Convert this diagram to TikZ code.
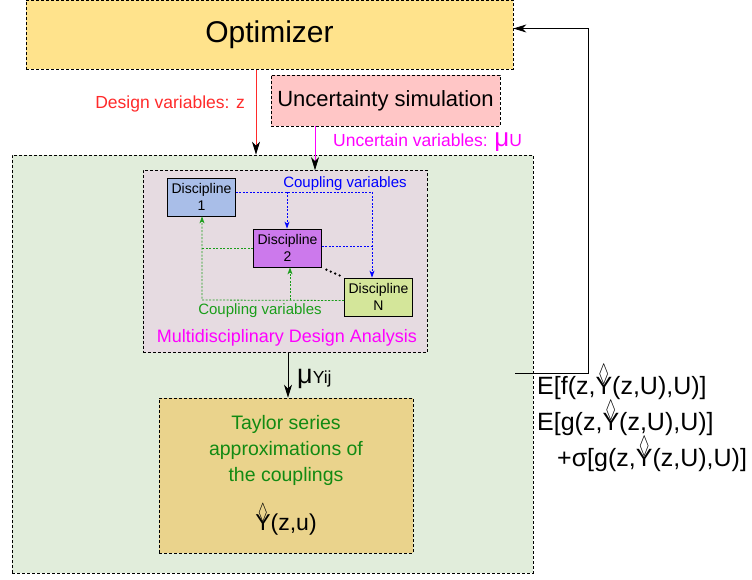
\documentclass[tikz,border=0pt]{standalone}
\usepackage{amsmath,amssymb}
\usepackage{fontspec}
\setmainfont{Liberation Sans}
\usepackage{tikz}
\usetikzlibrary{arrows.meta}
\definecolor{optfill}{HTML}{FFE38C}
\definecolor{uncfill}{HTML}{FFC6C6}
\definecolor{anafill}{HTML}{E1EDDB}
\definecolor{mdafill}{HTML}{E6DBE1}
\definecolor{discfillA}{HTML}{A9BEE8}
\definecolor{discfillB}{HTML}{CC79EC}
\definecolor{discfillN}{HTML}{D4E69A}
\definecolor{taylorfill}{HTML}{EAD38C}
\definecolor{designcolor}{HTML}{FF2A2A}
\definecolor{uncertcolor}{HTML}{FF00FF}
\definecolor{blueline}{HTML}{0000FF}
\definecolor{greenline}{HTML}{1A9E1A}
\definecolor{taylortext}{HTML}{128A12}
\newcommand{\yhat}{\leavevmode\setbox0\hbox{Y}%
  \rlap{\hbox to\wd0{\hss\raisebox{0.72\ht0}{\scalebox{0.62}[1.0]{$\lozenge$}}\hss}}\box0}
\tikzset{
  dashed box/.style={
    rectangle,
    draw=black,
    line width=0.7pt,
    dash pattern=on 3pt off 2pt,
    inner sep=0pt
  },
  optimizer box/.style={
    dashed box,
    fill=optfill,
    minimum width=487pt,
    minimum height=69pt,
    font=\fontsize{30}{36}\selectfont
  },
  uncert box/.style={
    dashed box,
    fill=uncfill,
    minimum width=229pt,
    minimum height=51pt,
    font=\fontsize{22}{26}\selectfont
  },
  analysis box/.style={
    dashed box,
    fill=anafill,
    minimum width=521pt,
    minimum height=418pt
  },
  mda box/.style={
    dashed box,
    fill=mdafill,
    minimum width=284pt,
    minimum height=182pt
  },
  taylor box/.style={
    dashed box,
    fill=taylorfill,
    minimum width=254pt,
    minimum height=155pt,
    align=center,
    text=taylortext,
    font=\fontsize{19.5}{26}\selectfont
  },
  discipline/.style={
    rectangle,
    draw=black,
    line width=0.8pt,
    minimum width=68pt,
    minimum height=38pt,
    inner sep=0pt,
    align=center,
    font=\fontsize{14}{16.5}\selectfont
  },
  coupling/.style={
    line width=0.8pt,
    dash pattern=on 2pt off 1.5pt,
    -{Stealth[length=7pt,width=5pt,inset=2pt]}
  },
  flow/.style={
    draw=black,
    line width=0.8pt,
    -{Stealth[length=13pt,width=8pt,inset=4pt,color=black]}
  },
  dots/.style={
    line width=2.6pt,
    line cap=round,
    dash pattern=on 0pt off 4.8pt
  },
  flow label/.style={
    font=\fontsize{17.5}{20}\selectfont,
    inner sep=0pt
  },
  small label/.style={
    font=\fontsize{15}{18}\selectfont,
    inner sep=0pt
  },
  mda title/.style={
    font=\fontsize{18}{20}\selectfont,
    text=uncertcolor,
    inner sep=0pt
  },
  output text/.style={
    font=\fontsize{25}{33}\selectfont,
    align=left,
    inner sep=0pt
  }
}

\begin{document}
\begin{tikzpicture}[x=1pt,y=-1pt]
  \useasboundingbox (0,0) rectangle (752,580);

  \node[analysis box] (analysis) at (272.5,364) {};
  \node[optimizer box] (optimizer) at (269.5,35) {Optimizer};
  \node[uncert box] (uncert) at (385.5,100.5) {Uncertainty simulation};
  \node[mda box] (mda) at (285,261.5) {};
  \node[taylor box] (taylor) at (286,475.5) {Taylor series\\approximations of\\the couplings\\[17pt]\textcolor{black}{\fontsize{23}{23}\selectfont\yhat(z,u)}};

  \node[discipline, fill=discfillA] (D-1) at (201.5,197) {Discipline\\1};
  \node[discipline, fill=discfillB] (D-2) at (287.5,248) {Discipline\\2};
  \node[discipline, fill=discfillN] (D-N) at (378.5,297) {Discipline\\N};

  \node[small label, text=blueline] (cv-blue) at (345,184) {Coupling variables};
  \node[small label, text=greenline] (cv-green) at (260,310.5) {Coupling variables};
  \node[mda title] (mda-title) at (287,338) {Multidisciplinary Design Analysis};

  % couplings between the disciplines
  \coordinate (B-join) at (372,192);
  \coordinate (B-2) at (287,192);
  \coordinate (G-join) at (202,300);
  \coordinate (G-2) at (290,300);
  \draw[coupling, draw=blueline] ([yshift=5pt]D-1.east) -- (B-join) -- (B-join |- D-N.north);
  \draw[coupling, draw=blueline] (B-2) -- (B-2 |- D-2.north);
  \draw[coupling, draw=blueline, -] ([yshift=2pt]D-2.east) -- ([yshift=2pt]D-2.east -| B-join);
  \draw[coupling, draw=greenline] ([yshift=-3.5pt]D-N.west) -- (G-join) -- (G-join |- D-1.south);
  \draw[coupling, draw=greenline] (G-2) -- (G-2 |- D-2.south);
  \draw[coupling, draw=greenline, -] (D-2.west) -- (D-2.west -| G-join);
  \draw[dots] ([xshift=4.5pt,yshift=-2.3pt]D-2.south east) -- ([xshift=-3pt,yshift=1.5pt]D-N.north west);

  % flows
  \draw[flow, draw=designcolor] ([xshift=-13.5pt]optimizer.south) -- ([xshift=-13.5pt]optimizer.south |- analysis.north);
  \draw[flow, draw=uncertcolor] ([xshift=-70.5pt]uncert.south) -- ([xshift=-70.5pt]uncert.south |- mda.north);
  \draw[flow] ([xshift=3pt]mda.south) -- ([xshift=3pt]mda.south |- taylor.north);
  \coordinate (fb-start) at (515,373);
  \draw[flow] (fb-start) -| ([xshift=75pt,yshift=6.5pt]optimizer.east) -- ([yshift=6.5pt]optimizer.east);

  \node[flow label, text=designcolor, anchor=base east] (z-label) at (245,109) {Design variables: z};
  \node[flow label, text=uncertcolor, anchor=base west] (u-label) at (333,147) {Uncertain variables: {\fontsize{26}{26}\selectfont μ}U};
  \node[flow label, anchor=base west] (mu-label) at (297,383) {{\fontsize{27}{27}\selectfont μ}Yij};
  \node[output text, anchor=base west] (outputs) at (537,466) {E[f(z,\yhat(z,U),U)]\\E[g(z,\yhat(z,U),U)]\\\hspace*{20pt}+σ[g(z,\yhat(z,U),U)]};
\end{tikzpicture}
\end{document}
